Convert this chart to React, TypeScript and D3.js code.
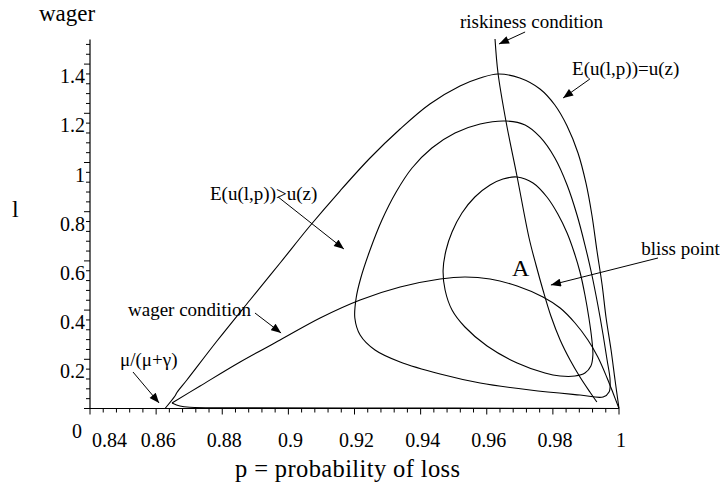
import React from "react";
import * as d3 from "d3";

// ---------- data (p = probability of loss, l = wager) ----------
const xTickValues = [0.84, 0.86, 0.88, 0.9, 0.92, 0.94, 0.96, 0.98, 1.0];
const xTickLabels = ["0.84", "0.86", "0.88", "0.9", "0.92", "0.94", "0.96", "0.98", "1"];
const yTickValues = [0.2, 0.4, 0.6, 0.8, 1.0, 1.2, 1.4];
const yTickLabels = ["0.2", "0.4", "0.6", "0.8", "1", "1.2", "1.4"];

// outer contour E(u(l,p)) = u(z): upper arc
const outerUpper: [number, number][] = [
  [0.8627, 0.0], [0.8657, 0.0508], [0.8663, 0.065], [0.8693, 0.1159],
  [0.8784, 0.2744], [0.8884, 0.4411], [0.8975, 0.5915], [0.9065, 0.7419],
  [0.9156, 0.8841], [0.9247, 1.0183], [0.9338, 1.1362], [0.9428, 1.2378],
  [0.9519, 1.311], [0.958, 1.3435], [0.9634, 1.3598], [0.97, 1.3435],
  [0.9761, 1.2988], [0.9806, 1.2337], [0.9843, 1.1484], [0.9876, 1.0386],
  [0.99, 0.9167], [0.9918, 0.7866], [0.9933, 0.6443], [0.9949, 0.502],
  [0.9961, 0.3679], [0.9976, 0.2378], [0.9988, 0.1159], [1.0, 0.0],
];
// outer contour: lower branch (hugging the axis)
const outerLower: [number, number][] = [
  [0.8648, 0.0224], [0.8672, 0.0102], [0.8702, 0.005], [0.8884, 0.003],
  [0.9338, 0.002], [0.98, 0.001], [1.0, 0.0],
];
// middle closed contour
const middleLoop: [number, number][] = [
  [0.9658, 1.1687], [0.9716, 1.1524], [0.9761, 1.1037], [0.9806, 1.0183],
  [0.9843, 0.9085], [0.9873, 0.7866], [0.9897, 0.6646], [0.9918, 0.5427],
  [0.9936, 0.4207], [0.9952, 0.2988], [0.9964, 0.1972], [0.9973, 0.1159],
  [0.997, 0.0671], [0.9952, 0.0467], [0.9882, 0.0549], [0.9731, 0.0752],
  [0.958, 0.1037], [0.9459, 0.1402], [0.9338, 0.189], [0.9262, 0.2378],
  [0.9217, 0.2988], [0.9201, 0.3679], [0.9205, 0.4492], [0.9219, 0.5305],
  [0.9247, 0.6443], [0.9283, 0.7663], [0.9326, 0.8801], [0.9374, 0.9776],
  [0.9434, 1.0589], [0.9504, 1.1199], [0.958, 1.1565],
];
// inner closed contour
const innerLoop: [number, number][] = [
  [0.9692, 0.9411], [0.974, 0.9167], [0.9782, 0.8598], [0.9815, 0.7907],
  [0.9843, 0.7134], [0.9864, 0.6362], [0.9882, 0.5549], [0.9897, 0.4614],
  [0.9909, 0.3679], [0.9918, 0.2785], [0.9921, 0.2175], [0.9915, 0.1728],
  [0.9897, 0.1443], [0.9867, 0.1321], [0.9822, 0.1321], [0.9776, 0.1443],
  [0.9692, 0.185], [0.9601, 0.2541], [0.9534, 0.3313], [0.9495, 0.4004],
  [0.9474, 0.4817], [0.9468, 0.563], [0.9477, 0.6443], [0.9495, 0.7175],
  [0.9525, 0.7947], [0.9564, 0.8598], [0.961, 0.9085], [0.9649, 0.9329],
];
// wager condition
const wagerCurve: [number, number][] = [
  [0.8648, 0.0224], [0.8733, 0.0915], [0.8854, 0.189], [0.8975, 0.2785],
  [0.9096, 0.3679], [0.9217, 0.4411], [0.9338, 0.4939], [0.9459, 0.5264],
  [0.9534, 0.5346], [0.961, 0.5264], [0.9692, 0.498], [0.977, 0.4533],
  [0.9822, 0.4085], [0.9867, 0.3476], [0.9906, 0.2785], [0.9936, 0.2093],
  [0.9964, 0.124], [0.9982, 0.063], [1.0, 0.0],
];
// riskiness condition
const riskCurve: [number, number][] = [
  [0.9625, 1.502], [0.9634, 1.3638], [0.9658, 1.1687], [0.9692, 0.9411],
  [0.9728, 0.6931], [0.9749, 0.5833], [0.977, 0.4817], [0.9794, 0.376],
  [0.9822, 0.2785], [0.9852, 0.1972], [0.9882, 0.1281], [0.9912, 0.0671],
  [0.9933, 0.0264],
];

// annotations (data coordinates)
const annotLabels = ["μ/(μ+γ)", "wager condition", "E(u(l,p))>u(z)", "E(u(l,p))=u(z)", "riskiness condition", "bliss point"];
const annotText: [number, number][] = [
  [0.8491, 0.1728], [0.8515, 0.376], [0.8763, 0.8476], [0.9858, 1.3557], [0.9519, 1.5467], [1.0067, 0.624],
];
const annotFrom: [number, number][] = [
  [0.853, 0.1484], [0.8899, 0.3882], [0.8969, 0.8598], [0.9912, 1.3394], [0.9716, 1.5305], [1.0118, 0.6118],
];
const annotTo: [number, number][] = [
  [0.8609, 0.0224], [0.8978, 0.3069], [0.9168, 0.6484], [0.9831, 1.2622], [0.9637, 1.4817], [0.9794, 0.502],
];
const pointLabel = "A";
const pointLabelPos: [number, number] = [0.9676, 0.5386];

// ---------- layout ----------
const W = 720;
const H = 491;
const FONT = "'Liberation Serif', 'Times New Roman', Times, serif";

export default function App() {
  const x = d3.scaleLinear().domain([0.84, 1.0]).range([90, 619]);
  const y = d3.scaleLinear().domain([0, 1.5]).range([408.5, 39.5]);

  const line = d3
    .line<[number, number]>()
    .x((d) => x(d[0]))
    .y((d) => y(d[1]))
    .curve(d3.curveCatmullRom.alpha(0.5));
  const loop = d3
    .line<[number, number]>()
    .x((d) => x(d[0]))
    .y((d) => y(d[1]))
    .curve(d3.curveCatmullRomClosed.alpha(0.5));

  const xMinor = d3.range(0, 41).map((i) => 0.84 + i * 0.004);
  const yMinor = d3.range(0, 38).map((i) => i * 0.04);

  const stroke = { fill: "none", stroke: "#000", strokeWidth: 1.1 };

  return (
    <svg
      width={W}
      height={H}
      viewBox={`0 0 ${W} ${H}`}
      style={{ position: "absolute", left: 0, top: 0, background: "#fff", fontFamily: FONT }}
    >
      <defs>
        <marker
          id="ah"
          viewBox="0 0 10 8"
          refX="10"
          refY="4"
          markerWidth="11"
          markerHeight="8"
          markerUnits="userSpaceOnUse"
          orient="auto"
        >
          <path d="M0,0 L10,4 L0,8 Z" fill="#000" />
        </marker>
      </defs>

      {/* axes */}
      <line x1={87} x2={x(1.0)} y1={y(0)} y2={y(0)} stroke="#000" strokeWidth={1.2} />
      <line x1={x(0.84)} x2={x(0.84)} y1={y(0)} y2={y(1.5)} stroke="#000" strokeWidth={1.2} />
      {xMinor.map((v, i) => (
        <line key={"xm" + i} x1={x(v)} x2={x(v)} y1={y(0)} y2={y(0) + (i % 5 === 0 ? 6 : 4)} stroke="#000" strokeWidth={1} />
      ))}
      {yMinor.map((v, i) => (
        <line key={"ym" + i} x1={x(0.84) - (i % 5 === 0 ? 6 : 4)} x2={x(0.84)} y1={y(v)} y2={y(v)} stroke="#000" strokeWidth={1} />
      ))}
      {xTickValues.map((v, i) => (
        <text
          key={"xt" + i}
          x={x(v) + 2}
          y={447}
          fontSize={20}
          textAnchor={i === 0 ? "start" : "middle"}
        >
          {xTickLabels[i]}
        </text>
      ))}
      {yTickValues.map((v, i) => (
        <text key={"yt" + i} x={85} y={y(v) + 19} fontSize={20} textAnchor="end">
          {yTickLabels[i]}
        </text>
      ))}
      <text x={82} y={438} fontSize={20} textAnchor="end">0</text>

      {/* axis titles */}
      <text x={39} y={21} fontSize={23}>wager</text>
      <text x={12} y={217} fontSize={24}>l</text>
      <text x={235} y={477} fontSize={24.5} textLength={225} lengthAdjust="spacing">
        p = probability of loss
      </text>

      {/* curves */}
      <path d={line(outerUpper) || ""} {...stroke} />
      <path d={line(outerLower) || ""} {...stroke} />
      <path d={loop(middleLoop) || ""} {...stroke} />
      <path d={loop(innerLoop) || ""} {...stroke} />
      <path d={line(wagerCurve) || ""} {...stroke} />
      <path d={line(riskCurve) || ""} {...stroke} />

      {/* annotations */}
      {annotLabels.map((t, i) => (
        <g key={"an" + i}>
          <text x={x(annotText[i][0])} y={y(annotText[i][1])} fontSize={19}>
            {t}
          </text>
          <line
            x1={x(annotFrom[i][0])}
            y1={y(annotFrom[i][1])}
            x2={x(annotTo[i][0])}
            y2={y(annotTo[i][1])}
            stroke="#000"
            strokeWidth={1}
            markerEnd="url(#ah)"
          />
        </g>
      ))}
      <text x={x(pointLabelPos[0])} y={y(pointLabelPos[1])} fontSize={24}>
        {pointLabel}
      </text>
    </svg>
  );
}
